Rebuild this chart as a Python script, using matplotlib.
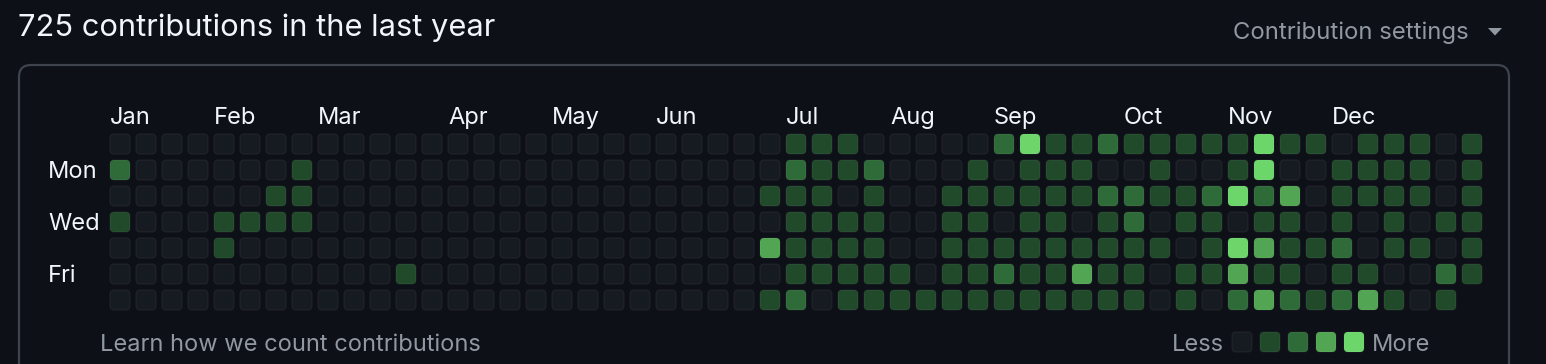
import matplotlib.pyplot as plt
from matplotlib.patches import FancyBboxPatch, Polygon

plt.rcParams['font.family'] = ['Inter', 'DejaVu Sans']

# contribution level (0-4) per week, one list per weekday row
sun = [0,0,0,0,0,0,0,0,0,0,0,0,0, 0,0,0,0,0,0,0,0,0,0,0,0,0, 1,1,1,0,0,0,0,0,2,4,1,1,2, 1,1,1,1,1,4,1,1,0,1,1,1,0,1]
mon = [2,0,0,0,0,0,0,1,0,0,0,0,0, 0,0,0,0,0,0,0,0,0,0,0,0,0, 2,1,1,2,0,0,0,1,0,1,1,1,0, 0,1,0,0,1,4,0,0,1,1,1,1,0,1]
tue = [0,0,0,0,0,0,1,1,0,0,0,0,0, 0,0,0,0,0,0,0,0,0,0,0,0,1, 1,1,0,1,0,0,1,1,1,1,1,1,2, 2,1,1,2,4,2,3,0,1,1,1,1,0,1]
wed = [1,0,0,0,1,1,1,1,0,0,0,0,0, 0,0,0,0,0,0,0,0,0,0,0,0,0, 1,1,1,1,0,0,1,1,0,1,1,0,1, 2,0,1,1,0,1,1,0,1,0,1,0,1,1]
thu = [0,0,0,0,1,0,0,0,0,0,0,0,0, 0,0,0,0,0,0,0,0,0,0,0,0,3, 1,1,1,1,0,0,1,1,1,1,1,1,1, 1,1,0,1,4,3,1,1,2,0,1,1,0,1]
fri = [0,0,0,0,0,0,0,0,0,0,0,1,0, 0,0,0,0,0,0,0,0,0,0,0,0,0, 1,1,1,1,1,0,1,1,2,1,1,3,1, 1,0,1,1,3,1,1,0,1,1,0,0,2,1]
sat = [0,0,0,0,0,0,0,0,0,0,0,0,0, 0,0,0,0,0,0,0,0,0,0,0,0,1, 2,0,1,1,1,1,1,1,1,1,1,1,1, 1,0,1,0,2,3,2,1,2,3,1,0,1]

months = ['Jan', 'Feb', 'Mar', 'Apr', 'May', 'Jun', 'Jul', 'Aug', 'Sep', 'Oct', 'Nov', 'Dec']
month_weeks = [0, 4, 8, 13, 17, 21, 26, 30, 34, 39, 43, 47]
day_labels = {1: 'Mon', 3: 'Wed', 5: 'Fri'}
total = 725

bg = '#0d1117'
level_colors = ['#161a21', '#214a2b', '#2f6b39', '#52a552', '#6dd66b']
text_main = '#f0f6fc'
text_muted = '#9198a1'

W, H = 1546, 364
fig = plt.figure(figsize=(W / 100, H / 100), dpi=100, facecolor=bg)

# background layer in pixel coordinates
axb = fig.add_axes([0, 0, 1, 1])
axb.set_xlim(0, W)
axb.set_ylim(H, 0)
axb.axis('off')
axb.set_facecolor(bg)

axb.add_patch(FancyBboxPatch((19, 65), 1490, 340, boxstyle='round,pad=0,rounding_size=12',
                             facecolor=bg, edgecolor='#3d444d', linewidth=1.6))
axb.text(18, 36, f'{total} contributions in the last year', color=text_main,
         fontsize=22.2, va='baseline', ha='left')
axb.text(1233, 39, 'Contribution settings', color=text_muted, fontsize=17.2,
         va='baseline', ha='left')
axb.add_patch(Polygon([[1488, 28], [1502, 28], [1495, 35.5]], closed=True,
                      facecolor=text_muted, edgecolor='none'))
axb.text(100, 351, 'Learn how we count contributions', color=text_muted,
         fontsize=17, va='baseline', ha='left')
axb.text(1172, 351, 'Less', color=text_muted, fontsize=17, va='baseline', ha='left')
axb.text(1372, 351, 'More', color=text_muted, fontsize=17, va='baseline', ha='left')
for i, c in enumerate(level_colors):
    axb.add_patch(FancyBboxPatch((1232 + 28 * i, 332), 20, 20,
                                 boxstyle='round,pad=0,rounding_size=4',
                                 facecolor=c, edgecolor=(1, 1, 1, 0.05), linewidth=1))

# contribution grid in week/day units (26 px per unit)
rows = [sun, mon, tue, wed, thu, fri, sat]
n_weeks = len(sun)
x0, y_top = 107, 131
ax = fig.add_axes([x0 / W, (H - y_top - 7 * 26) / H, n_weeks * 26 / W, 7 * 26 / H])
ax.set_xlim(-0.5, n_weeks - 0.5)
ax.set_ylim(6.5, -0.5)
ax.axis('off')
ax.patch.set_alpha(0)

s = 20 / 26
for d, row in enumerate(rows):
    for w, lvl in enumerate(row):
        ax.add_patch(FancyBboxPatch((w - s / 2, d - s / 2), s, s,
                                    boxstyle='round,pad=0,rounding_size=0.16',
                                    facecolor=level_colors[lvl],
                                    edgecolor=(1, 1, 1, 0.05), linewidth=1))

for m, w in zip(months, month_weeks):
    ax.text(w - s / 2, -0.5 - 7 / 26, m, color=text_main, fontsize=17,
            ha='left', va='baseline', clip_on=False)
for d, lab in day_labels.items():
    ax.text(-0.5 - 59 / 26, d + 7.5 / 26, lab, color=text_main, fontsize=17,
            ha='left', va='baseline', clip_on=False)

fig.savefig('out.png', dpi=100, facecolor=bg)
